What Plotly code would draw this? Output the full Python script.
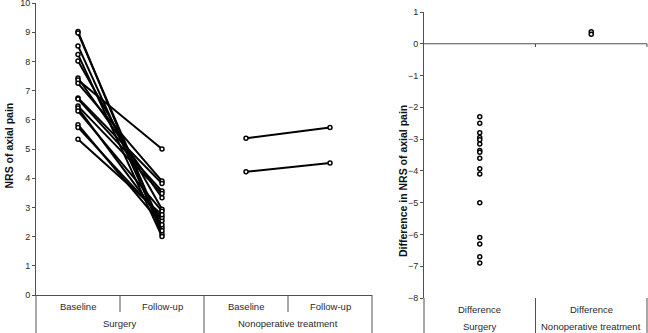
import plotly.graph_objects as go

W, H = 648, 333

# ---- data ----
cat_labels = ["Baseline", "Follow-up", "Baseline", "Follow-up"]
group_labels = ["Surgery", "Nonoperative treatment"]
diff_labels = ["Difference", "Difference"]

surgery_baseline = [9.02, 8.97, 8.53, 8.24, 8.01, 7.43, 7.36, 7.25, 6.75, 6.71, 6.47, 6.40, 6.30, 5.83, 5.74, 5.33]
surgery_followup = [2.09, 2.30, 2.20, 2.00, 2.94, 3.33, 5.00, 3.90, 3.82, 3.56, 3.48, 2.54, 2.87, 2.41, 2.65, 2.75]
nonop_baseline = [5.37, 4.22]
nonop_followup = [5.74, 4.52]

surgery_diff = [-2.30, -2.50, -2.80, -2.95, -3.02, -3.15, -3.36, -3.41, -3.60, -3.93, -4.10, -5.00, -6.10, -6.30, -6.70, -6.90]
nonop_diff = [0.38, 0.30]

y_left_ticks = list(range(0, 11))
y_right_ticks = list(range(-8, 2))

# ---- geometry helpers ----
def px(x):
    return x / W

def py(y):
    return (H - y) / H

FONT = "Liberation Sans, Arial, sans-serif"
TXT = "#2a2a2a"
LINE = "#505050"

marker = dict(symbol="circle", size=4, color="white", line=dict(color="black", width=1.5))

fig = go.Figure()

for b, f in zip(surgery_baseline, surgery_followup):
    fig.add_trace(go.Scatter(x=[1, 2], y=[b, f], mode="lines+markers",
                             line=dict(color="black", width=2), marker=marker,
                             xaxis="x", yaxis="y", showlegend=False, hoverinfo="y"))
for b, f in zip(nonop_baseline, nonop_followup):
    fig.add_trace(go.Scatter(x=[3, 4], y=[b, f], mode="lines+markers",
                             line=dict(color="black", width=2), marker=marker,
                             xaxis="x", yaxis="y", showlegend=False, hoverinfo="y"))

fig.add_trace(go.Scatter(x=[1] * len(surgery_diff), y=surgery_diff, mode="markers",
                         marker=marker, xaxis="x2", yaxis="y2", showlegend=False))
fig.add_trace(go.Scatter(x=[2] * len(nonop_diff), y=nonop_diff, mode="markers",
                         marker=marker, xaxis="x2", yaxis="y2", showlegend=False))

axfont = dict(family=FONT, size=9, color=TXT)

fig.update_layout(
    width=W, height=H,
    margin=dict(l=0, r=0, t=0, b=0, autoexpand=False),
    paper_bgcolor="white", plot_bgcolor="white",
    font=dict(family=FONT, size=9, color=TXT),
    xaxis=dict(domain=[px(36), px(372)], range=[0.5, 4.5], anchor="y",
               tickvals=[1, 2, 3, 4], showticklabels=False, ticks="",
               showline=True, linecolor=LINE, linewidth=1, showgrid=False,
               zeroline=False, automargin=False, fixedrange=True),
    yaxis=dict(domain=[py(295), py(3)], range=[0, 10], anchor="x",
               tickvals=y_left_ticks, ticks="outside", ticklen=3, tickcolor=LINE,
               showline=True, linecolor=LINE, linewidth=1, showgrid=False,
               zeroline=False, tickfont=axfont, automargin=False,
               ticklabeloverflow="allow"),
    xaxis2=dict(domain=[px(424), px(647)], range=[0.5, 2.5], anchor="y2",
                tickvals=[1, 2], showticklabels=False, ticks="",
                showline=False, showgrid=False, zeroline=False, automargin=False),
    yaxis2=dict(domain=[py(298), py(12)], range=[-8, 1], anchor="x2",
                tickvals=y_right_ticks, ticks="outside", ticklen=3, tickcolor=LINE,
                showline=True, linecolor=LINE, linewidth=1, showgrid=False,
                zeroline=False, tickfont=axfont, automargin=False,
                ticklabeloverflow="allow"),
)

shapes = []
def vline(x_px, y0_px, y1_px):
    shapes.append(dict(type="line", xref="paper", yref="paper",
                       x0=px(x_px), x1=px(x_px), y0=py(y0_px), y1=py(y1_px),
                       line=dict(color=LINE, width=1)))

# left panel dividers and axis extension
vline(36, 295, 333)
vline(120, 295, 312)
vline(204, 295, 333)
vline(288, 295, 312)
vline(372, 295, 333)
# right panel
vline(424, 298, 333)
vline(535.5, 298, 333)
vline(647, 298, 333)
# zero line of right panel (category axis crossing at 0)
shapes.append(dict(type="line", xref="x2 domain", yref="y2", x0=0, x1=1, y0=0, y1=0,
                   line=dict(color=LINE, width=1)))
for xv in [0.5, 1]:
    shapes.append(dict(type="line", xref="x2 domain", yref="paper", x0=xv, x1=xv,
                       y0=py(43.7), y1=py(47), line=dict(color=LINE, width=1)))
fig.update_layout(shapes=shapes)

lab_font = dict(family=FONT, size=9.5, color=TXT)
ann = []
def lab(text, x, y_px, xref):
    ann.append(dict(text=text, x=x, y=py(y_px), xref=xref, yref="paper",
                    xanchor="center", yanchor="middle", showarrow=False, font=lab_font))

for i, t in enumerate(cat_labels):
    lab(t, i + 1, 306.5, "x")
for i, t in enumerate(group_labels):
    lab(t, 1.5 + 2 * i, 323.5, "x")
for i, t in enumerate(diff_labels):
    lab(t, i + 1, 309.5, "x2")
for i, t in enumerate(group_labels):
    lab(t, i + 1, 326.5, "x2")

ann.append(dict(text="<b>NRS of axial pain</b>", x=px(8.5), y=py(146), xref="paper", yref="paper",
                xanchor="center", yanchor="middle",
                showarrow=False, textangle=-90, font=dict(family=FONT, size=10.5, color="#111")))
ann.append(dict(text="<b>Difference in NRS of axial pain</b>", x=px(403), y=py(181), xref="paper", yref="paper",
                xanchor="center", yanchor="middle",
                showarrow=False, textangle=-90, font=dict(family=FONT, size=10.5, color="#111")))
fig.update_layout(annotations=ann)

fig.write_html("out.html", config={"displayModeBar": False},
               post_script="document.body.style.margin='0';")
